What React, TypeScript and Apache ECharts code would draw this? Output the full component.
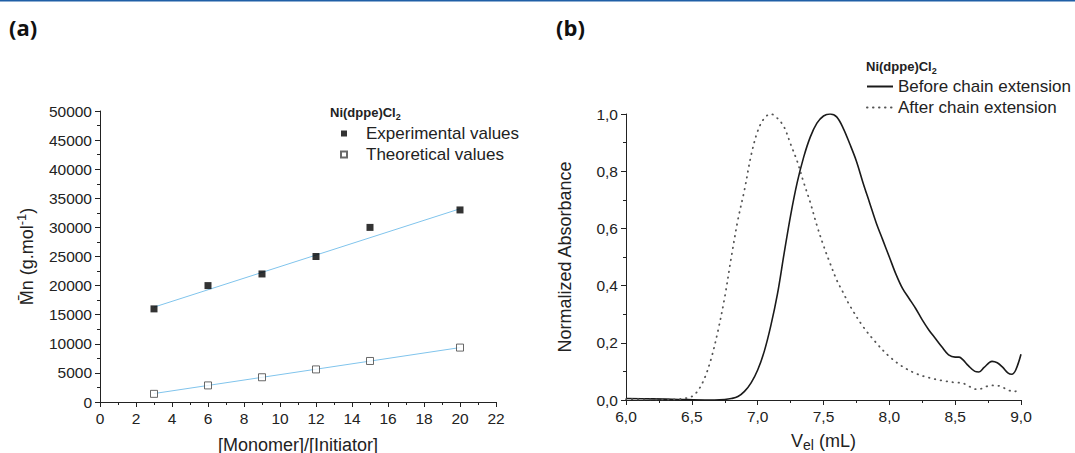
import { useEffect, useRef } from 'react';
import * as echarts from 'echarts';

// ---------- Panel (a) data ----------
const ratioX = [3, 6, 9, 12, 15, 20];
const experimentalMn = [16000, 20000, 22000, 25000, 30000, 33000];
const theoreticalMn = [1400, 2850, 4250, 5600, 7050, 9350];
const expFitX = [3, 20];
const expFitY = [16300, 33200];
const theoFitX = [3, 20];
const theoFitY = [1450, 9350];

// ---------- Panel (b) data ----------
const beforeV = [6.0, 6.2, 6.4, 6.6, 6.75, 6.8, 6.85, 6.9, 6.95, 7.0, 7.05, 7.1, 7.15, 7.2, 7.25, 7.3, 7.35, 7.4, 7.45, 7.5, 7.55, 7.6, 7.65, 7.7, 7.75, 7.8, 7.85, 7.9, 7.95, 8.0, 8.05, 8.1, 8.15, 8.2, 8.25, 8.3, 8.35, 8.4, 8.45, 8.5, 8.53, 8.56, 8.6, 8.65, 8.68, 8.72, 8.78, 8.82, 8.86, 8.9, 8.93, 8.96, 9.0];
const beforeA = [0.005, 0.004, 0.002, 0.0, 0.002, 0.005, 0.012, 0.03, 0.06, 0.105, 0.17, 0.26, 0.37, 0.51, 0.645, 0.76, 0.85, 0.92, 0.968, 0.993, 1.0, 0.99, 0.95, 0.895, 0.835, 0.76, 0.69, 0.62, 0.56, 0.5, 0.44, 0.39, 0.355, 0.32, 0.28, 0.245, 0.215, 0.185, 0.158, 0.15, 0.15, 0.14, 0.12, 0.1, 0.098, 0.114, 0.135, 0.13, 0.115, 0.095, 0.09, 0.105, 0.16];
const afterV = [6.0, 6.3, 6.4, 6.45, 6.5, 6.55, 6.6, 6.65, 6.7, 6.75, 6.8, 6.85, 6.9, 6.95, 7.0, 7.05, 7.1, 7.15, 7.2, 7.25, 7.3, 7.35, 7.4, 7.45, 7.5, 7.55, 7.6, 7.65, 7.7, 7.8, 7.9, 8.0, 8.1, 8.2, 8.3, 8.4, 8.5, 8.55, 8.6, 8.67, 8.75, 8.8, 8.85, 8.9, 8.95, 9.0];
const afterA = [0.003, 0.002, 0.003, 0.006, 0.012, 0.035, 0.08, 0.15, 0.245, 0.36, 0.5, 0.63, 0.735, 0.855, 0.94, 0.985, 1.0, 0.985, 0.955, 0.895, 0.835, 0.76, 0.69, 0.61, 0.54, 0.478, 0.42, 0.375, 0.33, 0.257, 0.2, 0.152, 0.117, 0.093, 0.078, 0.068, 0.061, 0.06, 0.049, 0.037, 0.049, 0.051, 0.047, 0.035, 0.03, 0.037];

const xTicksA = { min: 0, max: 22, interval: 2 };
const yTicksA = { min: 0, max: 50000, interval: 5000 };
const xTicksB = { min: 6, max: 9, interval: 0.5 };
const yTicksB = { min: 0, max: 1, interval: 0.2 };

const FONT = 'Liberation Sans, Arial, sans-serif';
const INK = '#222';
const CLEAR = 'rgba(0,0,0,0)';

const zip = (xs: number[], ys: number[]) => xs.map((x, i) => [x, ys[i]]);
const comma = (v: number) => v.toFixed(1).replace('.', ',');
const plain = (v: number) => String(v);

function axisBase(extra: any) {
  return {
    axisLine: { show: true, onZero: false, lineStyle: { color: INK, width: 1 } },
    axisTick: { show: true, length: 5, lineStyle: { color: INK, width: 1 } },
    minorTick: { show: true, splitNumber: 2, length: 3, lineStyle: { color: INK, width: 1 } },
    splitLine: { show: false },
    minorSplitLine: { show: false },
    axisLabel: { fontSize: 15.5, color: INK, fontFamily: FONT, margin: 8, formatter: plain },
    nameTextStyle: { fontSize: 18, color: INK, fontFamily: FONT },
    ...extra,
  };
}

const titleRich = {
  a: { fontSize: 13, fontWeight: 'bold', color: INK, fontFamily: FONT },
  s: { fontSize: 9, fontWeight: 'bold', color: INK, fontFamily: FONT, padding: [8, 0, 0, 0] },
};

export default function App() {
  const ref = useRef<HTMLDivElement>(null);
  useEffect(() => {
    const chart = echarts.init(ref.current!, null, { renderer: 'svg' });
    const option: any = {
      animation: false,
      backgroundColor: '#fff',
      textStyle: { fontFamily: FONT },
      grid: [
        { left: 100, top: 111, width: 396, height: 291, containLabel: false, outerBoundsMode: 'none' },
        { left: 626, top: 114, width: 395, height: 286, containLabel: false, outerBoundsMode: 'none' },
      ],
      xAxis: [
        axisBase({
          type: 'value', gridIndex: 0, ...xTicksA,
          name: '[Monomer]/[Initiator]', nameLocation: 'middle', nameGap: 34,
        }),
        axisBase({
          type: 'value', gridIndex: 1, ...xTicksB,
          axisLabel: { fontSize: 15.5, color: INK, fontFamily: FONT, margin: 8, formatter: comma },
          name: '{a|V}{sub|el}{a| (mL)}', nameLocation: 'middle', nameGap: 30,
          nameTextStyle: {
            fontSize: 18, color: INK, fontFamily: FONT,
            rich: {
              a: { fontSize: 18, color: INK, fontFamily: FONT },
              sub: { fontSize: 14, color: INK, fontFamily: FONT, padding: [8, 0, 0, 0] },
            },
          },
        }),
      ],
      yAxis: [
        axisBase({
          type: 'value', gridIndex: 0, ...yTicksA,
          name: '{a|M\u0304n (g.mol}{sup|-1}{a|)}', nameLocation: 'middle', nameGap: 62,
          nameTextStyle: {
            fontSize: 18, color: INK, fontFamily: FONT,
            rich: {
              a: { fontSize: 18, color: INK, fontFamily: FONT },
              sup: { fontSize: 13, color: INK, fontFamily: FONT, padding: [0, 0, 10, 0] },
            },
          },
        }),
        axisBase({
          type: 'value', gridIndex: 1, ...yTicksB,
          axisLabel: { fontSize: 15.5, color: INK, fontFamily: FONT, margin: 8, formatter: comma },
          name: 'Normalized Absorbance', nameLocation: 'middle', nameGap: 52,
        }),
      ],
      title: [
        { text: '{a|Ni(dppe)Cl}{s|2}', left: 330, top: 104, padding: 0, textStyle: { rich: titleRich } },
        { text: '{a|Ni(dppe)Cl}{s|2}', left: 866, top: 58, padding: 0, textStyle: { rich: titleRich } },
      ],
      legend: [
        {
          left: 340, top: 125, orient: 'vertical', padding: 0, itemGap: 4,
          itemWidth: 6, itemHeight: 6,
          data: ['Experimental values', 'Theoretical values'],
          textStyle: { fontSize: 17, color: INK, fontFamily: FONT, padding: [0, 0, 0, 14] },
        },
        {
          left: 866, top: 78, orient: 'vertical', padding: 0, itemGap: 4,
          itemWidth: 26, itemHeight: 10,
          data: ['Before chain extension', 'After chain extension'],
          textStyle: { fontSize: 17, color: INK, fontFamily: FONT },
        },
      ],
      series: [
        {
          name: 'Experimental fit', type: 'line', xAxisIndex: 0, yAxisIndex: 0,
          data: zip(expFitX, expFitY), symbol: 'none', silent: true,
          lineStyle: { color: '#80c4ec', width: 1 }, z: 1,
        },
        {
          name: 'Theoretical fit', type: 'line', xAxisIndex: 0, yAxisIndex: 0,
          data: zip(theoFitX, theoFitY), symbol: 'none', silent: true,
          lineStyle: { color: '#80c4ec', width: 1 }, z: 1,
        },
        {
          name: 'Experimental values', type: 'scatter', xAxisIndex: 0, yAxisIndex: 0,
          data: zip(ratioX, experimentalMn), symbol: 'rect', symbolSize: 7,
          itemStyle: { color: '#000' }, z: 3,
        },
        {
          name: 'Theoretical values', type: 'scatter', xAxisIndex: 0, yAxisIndex: 0,
          data: zip(ratioX, theoreticalMn), symbol: 'rect', symbolSize: 7,
          itemStyle: { color: '#fff', borderColor: '#444', borderWidth: 1 }, z: 3,
        },
        {
          name: 'Before chain extension', type: 'line', xAxisIndex: 1, yAxisIndex: 1,
          data: zip(beforeV, beforeA), symbol: 'none', smooth: 0.35,
          lineStyle: { color: '#1a1a1a', width: 1.6 }, itemStyle: { color: CLEAR, borderColor: CLEAR },
        },
        {
          name: 'After chain extension', type: 'line', xAxisIndex: 1, yAxisIndex: 1,
          data: zip(afterV, afterA), symbol: 'none', smooth: 0.35,
          lineStyle: { color: '#555', width: 1.8, type: [0.5, 5.5], cap: 'round' },
          itemStyle: { color: CLEAR, borderColor: CLEAR },
        },
      ],
      graphic: [
        { type: 'rect', left: 0, top: 0, shape: { width: 1075, height: 1.5 }, style: { fill: '#1f5fa6' } },
        { type: 'text', left: 9, top: 16, style: { text: '(a)', fontSize: 22, fontWeight: 'bold', fontFamily: 'Open Sans, sans-serif', fill: '#111' } },
        { type: 'text', left: 556, top: 16, style: { text: '(b)', fontSize: 22, fontWeight: 'bold', fontFamily: 'Open Sans, sans-serif', fill: '#111' } },
      ],
    };
    chart.setOption(option);
    return () => chart.dispose();
  }, []);
  return <div ref={ref} style={{ position: 'absolute', left: 0, top: 0, width: 1075, height: 453 }} />;
}
